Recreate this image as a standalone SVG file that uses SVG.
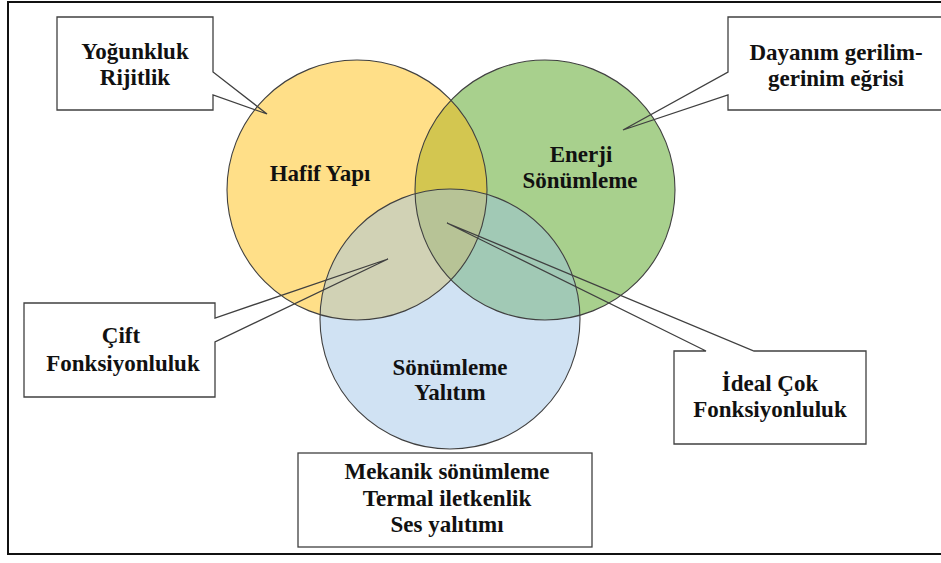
<svg xmlns="http://www.w3.org/2000/svg" width="941" height="563" viewBox="0 0 941 563">
<style>
.t{font-family:"Liberation Serif","Tinos","Times New Roman","DejaVu Serif",serif;font-weight:bold;font-size:23px;fill:#111;text-anchor:middle}
.bg{fill:#fff;stroke:none}
.box{fill:none;stroke:#404040;stroke-width:1.3}
.ol{fill:none;stroke:#404040;stroke-width:1.1}
</style>
<defs>
<clipPath id="cy"><circle cx="357" cy="190" r="130"/></clipPath>
<clipPath id="cg"><circle cx="545" cy="190" r="130"/></clipPath>
</defs>
<rect x="0" y="0" width="941" height="563" fill="#fff"/>
<rect x="8" y="2" width="940" height="552" fill="none" stroke="#111" stroke-width="2"/>
<g id="venn">
<circle cx="357" cy="190" r="130" fill="#FFDF88"/>
<circle cx="545" cy="190" r="130" fill="#A8D08D"/>
<circle cx="450" cy="319" r="130" fill="#D0E2F3"/>
<circle cx="545" cy="190" r="130" fill="#D3C650" clip-path="url(#cy)"/>
<circle cx="450" cy="319" r="130" fill="#D1D2B5" clip-path="url(#cy)"/>
<circle cx="450" cy="319" r="130" fill="#A1C9B5" clip-path="url(#cg)"/>
<g clip-path="url(#cg)"><circle cx="450" cy="319" r="130" fill="#B7C396" clip-path="url(#cy)"/></g>
<circle class="ol" cx="357" cy="190" r="130"/>
<circle class="ol" cx="545" cy="190" r="130"/>
<circle class="ol" cx="450" cy="319" r="130"/>
</g>
<g id="label-hafif"><text class="t" x="320" y="181">Hafif Yapı</text></g>
<g id="label-enerji"><text class="t" x="581" y="162">Enerji</text><text class="t" x="580" y="188">Sönümleme</text></g>
<g id="label-sonumleme"><text class="t" x="450" y="375">Sönümleme</text><text class="t" x="450" y="400">Yalıtım</text></g>
<g id="box-yogunluk">
<rect class="bg" x="57" y="17" width="156" height="93"/>
<path class="box" d="M57,17 H213 V72 L267,114 L213,95 V110 H57 Z"/>
<text class="t" x="135" y="59">Yoğunkluk</text><text class="t" x="135" y="85">Rijitlik</text>
</g>
<g id="box-dayanim">
<rect class="bg" x="728" y="17" width="217" height="93"/>
<path class="box" d="M728,17 H945 V110 H728 V95 L623,130 L728,72 Z"/>
<text class="t" x="836" y="60">Dayanım gerilim-</text><text class="t" x="836" y="86">gerinim eğrisi</text>
</g>
<g id="box-cift">
<rect class="bg" x="24" y="303" width="191" height="94"/>
<path class="box" d="M24,303 H215 V318 L388,259 L215,342 V397 H24 Z"/>
<text class="t" x="121" y="343">Çift</text><text class="t" x="123" y="371">Fonksiyonluluk</text>
</g>
<g id="box-ideal">
<rect class="bg" x="674" y="351" width="192" height="93"/>
<path class="box" d="M674,351 H706 L447,223 L754,351 H866 V444 H674 Z"/>
<text class="t" x="770" y="391">İdeal Çok</text><text class="t" x="770" y="417">Fonksiyonluluk</text>
</g>
<g id="box-mekanik">
<rect class="bg" x="298" y="453" width="294" height="94"/>
<rect class="box" x="298" y="453" width="294" height="94"/>
<text class="t" x="447" y="479">Mekanik sönümleme</text><text class="t" x="447" y="506">Termal iletkenlik</text><text class="t" x="447" y="532">Ses yalıtımı</text>
</g>
</svg>
